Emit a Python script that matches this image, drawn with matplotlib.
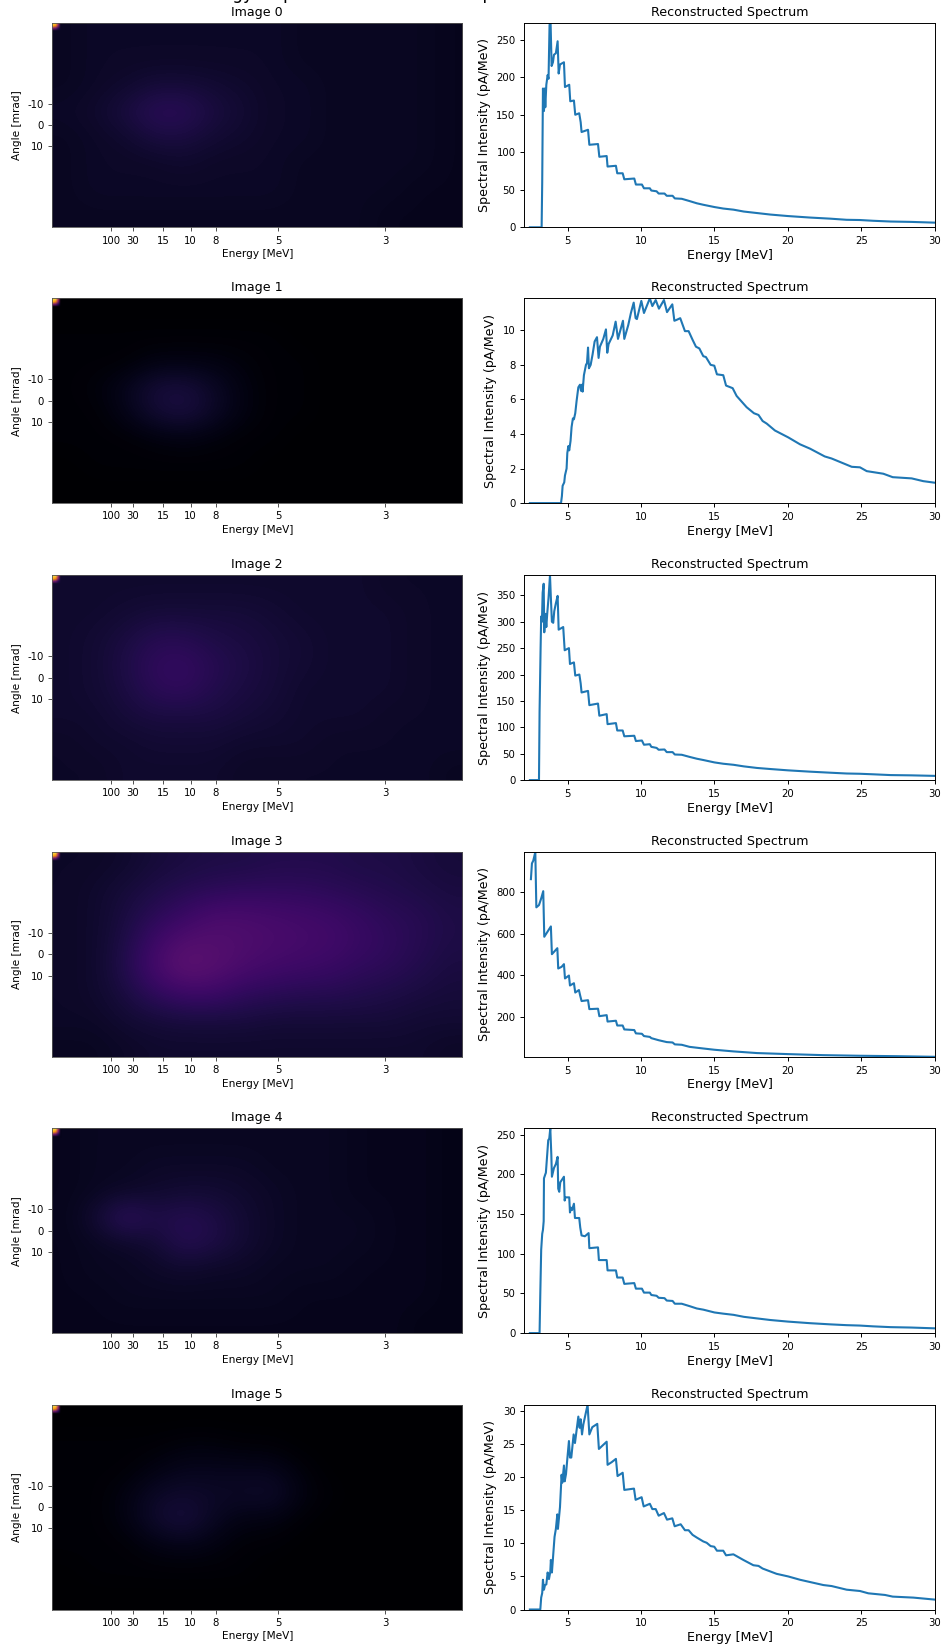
import numpy as np
import matplotlib
matplotlib.use("Agg")
import matplotlib.pyplot as plt

W, H = 945, 1652

image_titles = ["Image 0", "Image 1", "Image 2", "Image 3", "Image 4", "Image 5"]
energy_tick_labels = ["100", "30", "15", "10", "8", "5", "3"]
energy_tick_pos = [59, 80.7, 111.3, 138.7, 163.7, 226.3, 333.3]
angle_ticks = [-10, 0, 10]

img_0 = [[6,7,7,7,7,7,7,7,6,6,6,6,6,5],
         [6,7,7,7,7,7,7,7,6,6,6,6,6,5],
         [6,7,8,10,10,9,8,7,7,6,6,6,6,5],
         [7,8,11,15,15,11,9,7,7,6,6,6,6,5],
         [6,7,8,11,11,9,8,7,7,6,6,6,6,5],
         [6,7,7,7,8,7,7,7,6,6,6,6,6,5],
         [6,7,7,7,7,7,7,7,6,6,6,6,5,5],
         [6,6,6,6,6,6,6,6,6,6,6,5,5,5]]
img_1 = [[0,0,0,0,0,0,0,0,0,0,0,0,0,0],
         [1,1,1,1,1,1,1,1,0,0,0,0,0,0],
         [1,1,1,3,3,3,2,1,1,0,0,0,0,0],
         [1,2,5,10,11,7,3,1,1,0,0,0,0,0],
         [1,1,4,9,11,7,3,1,1,0,0,0,0,0],
         [1,1,1,2,3,2,1,1,0,0,0,0,0,0],
         [0,1,1,1,1,1,1,0,0,0,0,0,0,0],
         [0,0,0,0,0,0,0,0,0,0,0,0,0,0]]
img_2 = [[8,8,8,8,8,8,8,8,8,8,8,7,7,7],
         [8,8,9,10,10,10,10,9,8,8,8,8,7,7],
         [8,9,11,14,14,12,11,10,9,8,8,8,7,7],
         [8,9,12,16,17,14,12,10,9,8,8,8,7,7],
         [8,9,11,15,16,13,11,10,8,8,8,8,7,7],
         [8,8,10,11,11,11,10,9,8,8,8,7,7,7],
         [7,8,8,9,9,9,8,8,8,7,7,7,7,7],
         [7,7,8,8,8,8,7,7,7,7,7,7,7,6]]
img_3 = [[7,7,8,10,11,12,12,13,13,13,12,12,11,10],
         [7,8,10,12,14,15,16,16,16,15,14,13,12,11],
         [7,8,11,15,18,22,22,21,20,19,17,15,14,12],
         [7,8,12,19,24,24,23,22,21,20,18,16,14,12],
         [7,8,13,21,27,25,22,20,19,18,16,15,13,11],
         [7,8,11,16,19,19,16,15,14,14,13,12,11,10],
         [7,7,9,10,11,11,11,10,10,10,10,10,9,9],
         [6,6,7,8,8,8,8,8,8,8,8,8,8,7]]
img_4 = [[5,6,6,6,6,6,6,6,6,6,5,5,5,4],
         [5,6,6,7,7,7,7,6,6,6,5,5,5,4],
         [5,6,7,8,9,9,8,7,6,6,5,5,5,4],
         [5,9,17,12,14,12,9,7,6,6,6,5,5,4],
         [5,6,7,9,14,12,9,7,6,6,6,5,5,4],
         [5,6,6,7,8,7,7,6,6,6,5,5,5,4],
         [5,5,6,6,6,6,6,6,5,5,5,5,5,4],
         [5,5,5,5,5,5,5,5,5,5,5,5,4,4]]
img_5 = [[0,0,0,0,0,0,0,0,0,0,0,0,0,0],
         [1,1,1,1,2,2,1,1,0,0,0,0,0,0],
         [1,1,1,3,5,5,5,5,2,0,0,0,0,0],
         [1,1,3,7,8,7,7,8,3,1,0,0,0,0],
         [1,1,3,8,11,6,3,3,1,0,0,0,0,0],
         [1,1,1,3,4,3,1,1,0,0,0,0,0,0],
         [0,1,1,1,1,1,1,0,0,0,0,0,0,0],
         [0,0,0,0,0,0,0,0,0,0,0,0,0,0]]
corner_hot = [[90,88,45],[82,72,35],[35,30,15]]

tail_e = [12.77,13.3,13.8,14.25,15,15.6,16.3,17,17.9,18.8,20,21.5,22.9,24,24.9,25.8,27,28.4,30]

energy_0 = [2.43,3.23,3.27,3.32,3.39,3.43,3.48,3.55,3.64,3.7,3.77,3.84,3.91,4.0,4.07,4.2,4.32,4.39,4.48,4.75,4.82,5.11,5.18,5.43,5.52,5.79,5.89,5.95,6.39,6.48,7.07,7.16,7.66,7.72,8.29,8.38,8.75,8.86,9.54,9.65,10.06,10.2,10.6,10.7,11.06,11.2,11.6,11.75,12.15,12.3] + tail_e
spectrum_0 = [0,0,60,185,155,185,160,190,203,198,270,273,215,220,230,232,248,205,217,220,187,190,168,169,150,152,140,127,130,110,111,94,95,81,82,72,72,64,65,57,57,52,52,49,48,45,45,42,42,38.5,38,35,32,30,27,25,23.5,21,19,17,15,13,11.5,10,9.7,8.7,7.7,7.2,6.2]

energy_1 = [2.43,4.55,4.61,4.66,4.77,4.82,4.93,4.98,5.05,5.11,5.2,5.27,5.36,5.43,5.52,5.61,5.73,5.84,5.91,5.98,6.02,6.11,6.25,6.32,6.39,6.45,6.57,6.7,6.84,7.0,7.11,7.2,7.43,7.61,7.7,7.79,8.07,8.27,8.43,8.77,8.86,9.13,9.31,9.5,9.63,9.72,10.02,10.2,10.6,10.77,11.0,11.22,11.56,11.77,12.13,12.27,12.42,12.67,12.99,13.24,13.51,13.74,13.97,14.24,14.42,14.74,14.99,15.17,15.6,15.79,16.24,16.51,17.19,17.69,18.0,18.28,18.56,19.12,20.03,20.83,21.51,22.51,22.98,23.78,24.35,24.91,25.37,26.5,27.14,28.43,29.22,30]
spectrum_1 = [0,0,0.4,1.0,1.2,1.6,2.0,2.9,3.3,3.05,3.6,4.4,4.9,4.85,5.2,5.9,6.7,6.85,6.5,6.85,6.45,7.4,8.0,8.1,9.0,7.8,8.0,8.6,9.35,9.6,8.4,9.05,9.5,10.05,8.7,9.2,9.7,10.5,9.5,10.55,9.5,10.3,11,11.6,10.7,10.65,11.7,11.0,11.85,11.4,11.75,11.25,11.75,11.05,11.5,10.55,10.6,10.7,9.95,9.95,9.45,9.05,8.95,8.5,8.45,8.0,7.95,7.45,7.4,6.8,6.65,6.2,5.55,5.2,5.1,4.75,4.6,4.2,3.8,3.4,3.15,2.7,2.58,2.3,2.1,2.07,1.85,1.7,1.5,1.43,1.27,1.18]

energy_2 = [2.43,3.05,3.09,3.16,3.2,3.25,3.3,3.37,3.41,3.48,3.55,3.61,3.7,3.8,3.86,3.93,4.02,4.09,4.2,4.32,4.39,4.7,4.8,5.09,5.16,5.43,5.52,5.8,5.89,5.95,6.39,6.48,7.07,7.16,7.66,7.72,8.29,8.38,8.75,8.86,9.54,9.65,10.06,10.2,10.6,10.7,11.06,11.2,11.6,11.75,12.15,12.3] + tail_e
spectrum_2 = [0,0,130,250,310,300,355,372,280,315,290,315,345,388,345,300,298,320,335,349,285,290,246,250,220,223,198,200,183,166,169,142,145,122,125,106,108,94,94,83,84,74,75,67,68,63,61,57.5,58,53,53,48.5,48,44,40.5,38,33.5,31,29,26,23,21,18.5,16,14,12.5,12,11,9.5,9,8]

energy_3 = [2.5,2.57,2.66,2.75,2.8,2.87,3.05,3.2,3.34,3.41,3.86,3.93,4.3,4.36,4.59,4.75,4.82,5.09,5.16,5.43,5.52,5.77,5.86,5.95,6.39,6.48,7.07,7.16,7.66,7.72,8.29,8.38,8.75,8.86,9.54,9.65,10.06,10.2,10.6,10.7,11.2,11.75,12.15,12.3,12.77,13.3,14.25,15,16.3,17.9,20,22.4,24.9,27.4,30]
spectrum_3 = [864,940,953,980,995,728,739,771,806,586,636,502,531,433,441,454,385,399,351,362,317,329,301,276,280,237,239,203,208,177,181,158,158,139,136,120,118,107,103,97,87,78,76,67,65,55,47,41,33,25,20,15,12,10,7]

energy_4 = [2.43,3.09,3.14,3.2,3.27,3.32,3.37,3.39,3.48,3.52,3.61,3.68,3.75,3.82,3.89,3.93,4.07,4.2,4.32,4.36,4.43,4.5,4.75,4.8,4.84,5.11,5.16,5.23,5.3,5.43,5.5,5.79,5.86,5.95,6.18,6.43,6.48,7.07,7.13,7.66,7.72,8.29,8.38,8.75,8.86,9.54,9.65,10.06,10.2,10.6,10.7,11.06,11.2,11.6,11.75,12.15,12.3] + tail_e
spectrum_4 = [0,0,50,105,125,130,141,195,200,202,225,243,245,258,225,197,208,213,222,182,178,190,197,167,171,171,152,158,155,163,145,145,133,123,122,126,107,108,92,92,79,79,70,70,62,63,56,56,51,51,48,47,44.5,44,41,40.5,37,37,34,31,29.5,26,24.5,23,20.5,18.5,16.5,14.5,12.5,11,10,9.5,8.5,7.5,7,6]

energy_5 = [2.43,3.14,3.2,3.27,3.32,3.39,3.46,3.55,3.64,3.73,3.82,3.86,3.93,4.02,4.11,4.2,4.3,4.34,4.48,4.59,4.64,4.75,4.8,4.89,4.98,5.09,5.16,5.25,5.41,5.5,5.73,5.82,5.89,5.98,6.07,6.36,6.48,6.68,7.02,7.13,7.66,7.72,8.0,8.29,8.4,8.75,8.86,9.52,9.63,10.04,10.18,10.6,10.77,11,11.2,11.56,11.77,12.13,12.29,12.7,12.99,13.24,13.51,13.79,14.24,14.47,14.74,14.99,15.17,15.6,15.79,16.29,16.97,17.65,18.0,18.28,19.23,20.03,20.83,22.42,22.98,24,24.91,25.48,26.62,27.14,28.55,30]
spectrum_5 = [0,0,1.8,2.5,4.5,3.0,3.7,3.8,5.6,4.6,5.7,7.5,5.6,8.3,11,12.2,14.4,12.2,15.5,20.4,19.2,21.8,19.4,20.5,22.8,25.5,23,23,26.5,25.2,29.2,27.5,28.8,26.5,28,31,26.5,27.6,28.1,24.3,25.4,21.9,22.3,22.8,20.2,20.7,18.1,18.3,16.6,17.0,15.6,16.0,15.2,15.2,14.2,14.6,13.6,13.8,12.6,12.9,12.0,12.0,11.3,10.9,10.3,10.1,9.6,9.5,8.9,8.9,8.2,8.35,7.5,6.7,6.6,6.2,5.4,5.0,4.5,3.7,3.55,3.0,2.8,2.45,2.2,1.95,1.8,1.5]

images = [img_0, img_1, img_2, img_3, img_4, img_5]
energies = [energy_0, energy_1, energy_2, energy_3, energy_4, energy_5]
spectra = [spectrum_0, spectrum_1, spectrum_2, spectrum_3, spectrum_4, spectrum_5]
panel_tops = [22.5, 298.3, 575.3, 852, 1128.3, 1404.7]
PANEL_H = 204.8
IMG_W = 410.5
CORNER = 10

fig = plt.figure(figsize=(W / 100, H / 100), dpi=100)


def pixel_axes(x0, x1, top):
    return fig.add_axes([x0 / W, 1 - (top + PANEL_H) / H, (x1 - x0) / W, PANEL_H / H])


fig.text(194 / W, 1.0008, "Energy Maps and Reconstructed Spectra", fontsize=12.2,
         va="baseline", ha="left", color="black")

for i, top in enumerate(panel_tops):
    ax = pixel_axes(52, 52 + IMG_W, top)
    ax.imshow(images[i], cmap="inferno", vmin=0, vmax=100, aspect="auto",
              interpolation="bicubic", extent=[0, IMG_W, 48, -48])
    hot = np.pad(np.array(corner_hot, float), ((0, 1), (0, 1)),
                 constant_values=images[i][0][0])
    ax.imshow(hot, cmap="inferno", vmin=0, vmax=100, aspect="auto",
              interpolation="bilinear",
              extent=[0, CORNER, -48 + CORNER * 96 / PANEL_H, -48])
    ax.set_xlim(0, IMG_W)
    ax.set_ylim(48, -48)
    ax.set_xticks(energy_tick_pos)
    ax.set_xticklabels(energy_tick_labels)
    ax.set_yticks(angle_ticks)
    ax.set_yticklabels([str(t) for t in angle_ticks])
    ax.tick_params(labelsize=7.3, length=3, width=0.6, pad=3, color="#333333")
    ax.set_xlabel("Energy [MeV]", fontsize=7.55, labelpad=2.5)
    ax.set_ylabel("Angle [mrad]", fontsize=7.55, labelpad=4)
    ax.set_title(image_titles[i], fontsize=9.1, pad=5)
    for s in ax.spines.values():
        s.set_linewidth(0.6)
        s.set_color("#555555")

    ax2 = pixel_axes(524.3, 934.7, top)
    ax2.plot(energies[i], spectra[i], color="#1f77b4", lw=1.5)
    ax2.set_xlim(2.05, 30)
    ax2.set_ylim(min(spectra[i]), max(spectra[i]))
    ax2.set_xticks([5, 10, 15, 20, 25, 30])
    ax2.tick_params(labelsize=7.3, length=3, width=0.7, pad=3.3)
    ax2.set_xlabel("Energy [MeV]", fontsize=9.1, labelpad=2)
    ax2.set_ylabel("Spectral Intensity (pA/MeV)", fontsize=9.1, labelpad=4)
    ax2.set_title("Reconstructed Spectrum", fontsize=9.1, pad=5)
    for s in ax2.spines.values():
        s.set_linewidth(0.7)

fig.savefig("out.png", dpi=100)
